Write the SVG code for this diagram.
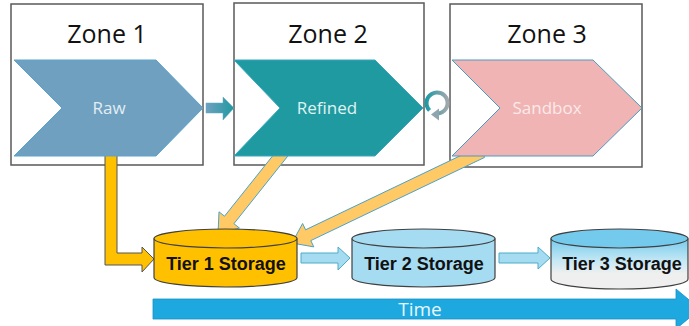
<svg xmlns="http://www.w3.org/2000/svg" width="689" height="326" viewBox="0 0 689 326">
<style>
.zone{fill:#fff;stroke:#595959;stroke-width:1.5}
.title{font-family:"Open Sans","Noto Sans",sans-serif;font-size:25px;fill:#111;text-anchor:middle}
.chev-label{font-family:"Open Sans","Noto Sans",sans-serif;font-size:17px;text-anchor:middle}
.tier{stroke:#404040;stroke-width:1.2}
.tier-label{font-family:"Liberation Sans",Arial,sans-serif;font-weight:bold;font-size:18px;fill:#111;text-anchor:middle}
.orange{fill:#FFC000;stroke:#555;stroke-width:1}
.lorange{fill:#FFC966;stroke:#4BA3C8;stroke-width:1}
.lblue{fill:#A6DCF2;stroke:#4BACC6;stroke-width:1}
</style>
<defs>
<linearGradient id="gSmall" x1="0" y1="0" x2="1" y2="0">
<stop offset="0" stop-color="#6FA0C0"/><stop offset="1" stop-color="#1E9AA0"/>
</linearGradient>
<linearGradient id="gRing" x1="0" y1="0" x2="1" y2="0">
<stop offset="0" stop-color="#1E9AA6"/><stop offset="1" stop-color="#A0A8AC"/>
</linearGradient>
<linearGradient id="gTier3" x1="0" y1="0" x2="0" y2="1">
<stop offset="0" stop-color="#74CAEC"/><stop offset="0.45" stop-color="#C6E8F5"/><stop offset="0.7" stop-color="#EFEFEF"/><stop offset="1" stop-color="#EFEFEF"/>
</linearGradient>
</defs>

<g id="zone1-box"><rect class="zone" x="11" y="4" width="192" height="161"/><text class="title" x="107" y="43">Zone 1</text></g>
<g id="zone2-box"><rect class="zone" x="234" y="3" width="190" height="162"/><text class="title" x="328" y="43">Zone 2</text></g>
<g id="zone3-box"><rect class="zone" x="450" y="4" width="192" height="163"/><text class="title" x="547" y="43">Zone 3</text></g>

<g id="connectors">
<polygon class="orange" points="105,150 117,150 117,253 142,253 142,247 154,259 142,272 142,265 105,265"/>
<polygon class="lorange" points="289.7,153.7 233.9,223.7 239.4,228 218,234 219,211.8 224.5,216.2 280.3,146.3"/>
<polygon class="lorange" points="484.6,157.4 310.8,240.6 313.8,246.9 292,243 302.6,223.5 305.6,229.8 479.4,146.6"/>
<polygon points="206,103 223,103 223,97 234,108 223,120 223,113 206,113" fill="url(#gSmall)" stroke="#5FA8C8" stroke-width="0.5"/>
<path d="M429.6,110.4 A10.5,10.5 0 1 1 437.5,113.5" fill="none" stroke="url(#gRing)" stroke-width="4"/>
<polygon points="431,114.5 439,108.5 439,120.5" fill="#8FA4AE"/>
<polygon class="lblue" points="301,253 338,253 338,247 350,258 338,270 338,263 301,263"/>
<polygon class="lblue" points="499,253 538,253 538,247 550,258 538,269 538,263 499,263"/>
</g>

<g id="raw"><polygon points="14,60 156,60 203,108 156,156 14,156 62,108" fill="#6FA0C0" stroke="#5AA3CC" stroke-width="1"/><text class="chev-label" x="109" y="114" fill="#E2EDF4">Raw</text></g>
<g id="refined"><polygon points="234,60 375,60 423,108 375,156 234,156 280,108" fill="#1E9AA0" stroke="#3AA6C0" stroke-width="1"/><text class="chev-label" x="327" y="114" fill="#E0F3F3">Refined</text></g>
<g id="sandbox"><polygon points="452,60 593,60 642,108 593,156 452,156 500,108" fill="#F0B4B4" stroke="#4A9BBF" stroke-width="1"/><text class="chev-label" x="547" y="114" fill="#FBEAEA">Sandbox</text></g>

<g id="tier1">
<path class="tier" d="M154,238.5 L154,277.5 A71.5,9.5 0 0 0 297,277.5 L297,238.5" fill="#FFC000"/>
<ellipse class="tier" cx="225.5" cy="238.5" rx="71.5" ry="9.5" fill="#FFC000"/>
<text class="tier-label" x="226" y="270">Tier 1 Storage</text>
</g>
<g id="tier2">
<path class="tier" d="M352,238.5 L352,277.5 A71.5,9.5 0 0 0 495,277.5 L495,238.5" fill="#A6DCF2"/>
<ellipse class="tier" cx="423.5" cy="238.5" rx="71.5" ry="9.5" fill="#A6DCF2"/>
<text class="tier-label" x="424" y="270">Tier 2 Storage</text>
</g>
<g id="tier3">
<path class="tier" d="M551,238.5 L551,279 A68.5,10 0 0 0 688,279 L688,238.5" fill="url(#gTier3)"/>
<ellipse class="tier" cx="619.5" cy="238.5" rx="68.5" ry="9.5" fill="#74CAEC"/>
<text class="tier-label" x="622" y="270">Tier 3 Storage</text>
</g>

<g id="time">
<polygon points="153,299 676,299 676,289 700,309 676,329 676,319 153,319" fill="#1DA9E0" stroke="#1890C4" stroke-width="0.8"/>
<text x="420" y="316" font-family="Open Sans,Noto Sans,sans-serif" font-size="19" fill="#EAF6FC" text-anchor="middle">Time</text>
</g>
</svg>
